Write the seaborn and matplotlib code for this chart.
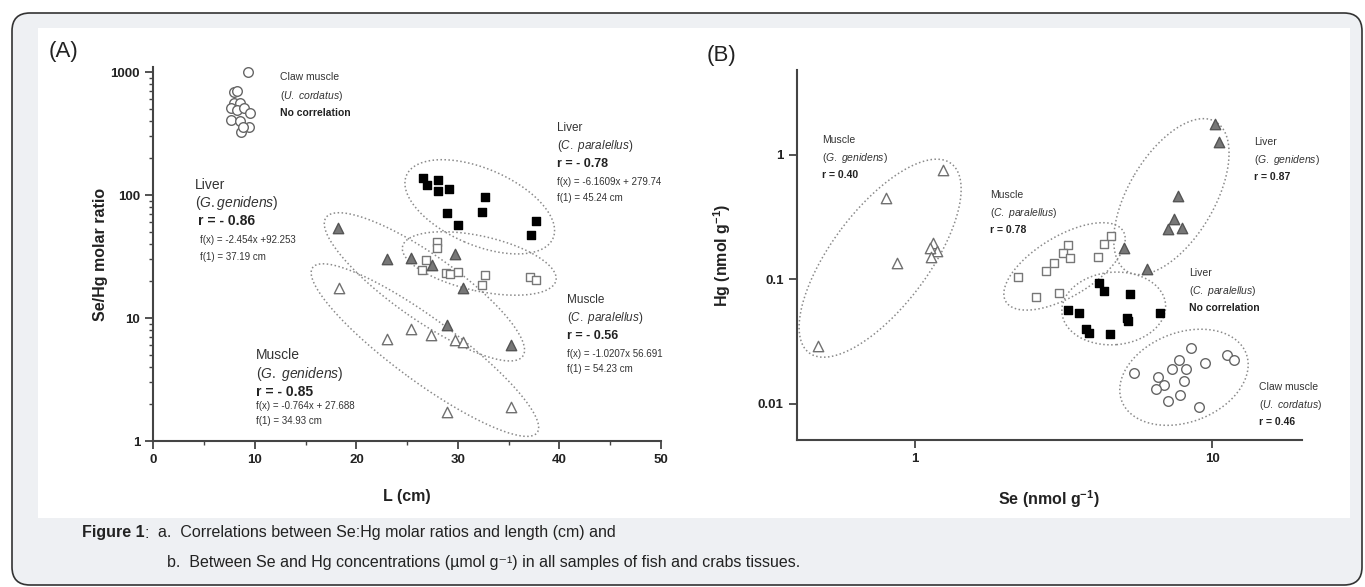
import numpy as np
import pandas as pd
import matplotlib
matplotlib.use("Agg")
import matplotlib.pyplot as plt
import seaborn as sns
from matplotlib.patches import FancyBboxPatch, Rectangle
from matplotlib.transforms import IdentityTransform
from matplotlib.ticker import FixedLocator, NullLocator, LogLocator, NullFormatter, MultipleLocator

# ---- panel A : Se/Hg molar ratio vs length ----
claw_A_L = [9.3, 7.9, 8.2, 7.9, 8.5, 7.7, 8.2, 8.9, 9.5, 7.7, 8.5, 9.4, 8.6, 8.8]
claw_A_ratio = [1000, 690, 700, 560, 560, 510, 490, 510, 465, 410, 400, 360, 325, 355]
liverC_A_L = [26.6, 27.0, 28.0, 28.0, 29.1, 32.7, 32.4, 28.9, 30.0, 37.7, 37.2]
liverC_A_ratio = [137, 121, 132, 108, 113, 97, 73, 71, 57, 61, 47]
liverG_A_L = [18.2, 23.0, 25.4, 27.4, 29.7, 30.5, 28.9, 35.2]
liverG_A_ratio = [53.6, 30.2, 30.6, 27.0, 33.1, 17.4, 8.8, 6.0]
muscC_A_L = [27.9, 27.9, 26.9, 26.5, 28.8, 29.2, 30.0, 32.7, 32.4, 37.1, 37.7]
muscC_A_ratio = [41.7, 36.9, 29.6, 24.6, 23.4, 22.8, 23.8, 22.4, 18.5, 21.4, 20.4]
muscG_A_L = [18.3, 23.0, 25.4, 27.3, 29.7, 30.5, 28.9, 35.2]
muscG_A_ratio = [17.4, 6.8, 8.1, 7.3, 6.6, 6.4, 1.73, 1.9]

# ---- panel B : Hg vs Se ----
muscG_B_Se = [1.24, 0.80, 0.87, 1.15, 1.19, 1.12, 1.13, 0.47]
muscG_B_Hg = [0.75, 0.45, 0.134, 0.195, 0.168, 0.178, 0.150, 0.029]
muscC_B_Se = [4.57, 4.33, 3.26, 3.14, 3.32, 2.94, 2.76, 4.14, 2.22, 2.56, 3.04]
muscC_B_Hg = [0.223, 0.192, 0.189, 0.162, 0.148, 0.134, 0.117, 0.152, 0.105, 0.072, 0.078]
liverC_B_Se = [4.17, 4.33, 5.29, 3.26, 3.55, 3.76, 3.86, 4.53, 5.15, 5.19, 6.67]
liverC_B_Hg = [0.094, 0.080, 0.076, 0.057, 0.053, 0.040, 0.037, 0.036, 0.049, 0.046, 0.053]
liverG_B_Se = [10.2, 10.5, 7.7, 7.45, 7.11, 7.94, 5.06, 6.04]
liverG_B_Hg = [1.77, 1.27, 0.468, 0.304, 0.252, 0.257, 0.178, 0.120]
claw_B_Se = [8.46, 7.72, 7.35, 8.19, 6.56, 6.88, 8.06, 6.47, 7.80, 7.09, 9.04, 9.49, 5.47, 11.2, 11.8]
claw_B_Hg = [0.0282, 0.0224, 0.0189, 0.0189, 0.0165, 0.0141, 0.0153, 0.0130, 0.0117, 0.0105,
             0.0094, 0.0211, 0.0175, 0.0246, 0.0224]

W, H = 1365, 587
sns.set_style("ticks")
plt.rcParams["font.family"] = ["Liberation Sans", "DejaVu Sans"]
plt.rcParams["mathtext.fontset"] = "custom"
plt.rcParams["mathtext.rm"] = "Liberation Sans"
plt.rcParams["mathtext.it"] = "Liberation Sans:italic"
plt.rcParams["mathtext.bf"] = "Liberation Sans:bold"

fig = plt.figure(figsize=(W / 100, H / 100), dpi=100)
fig.patch.set_facecolor("white")
fig.add_artist(FancyBboxPatch((12, H - 585), 1350, 572, boxstyle="round,pad=0,rounding_size=18",
                              transform=IdentityTransform(), fc="#eef0f3", ec="#333333", lw=1.2, zorder=-3))
fig.add_artist(Rectangle((38, H - 518), 1312, 490, transform=IdentityTransform(),
                         fc="white", ec="none", zorder=-2))


def px_ax(l, r, t, b):
    return [l / W, 1 - b / H, (r - l) / W, (b - t) / H]


axA = fig.add_axes(px_ax(153.3, 661, 67, 441))
axB = fig.add_axes(px_ax(796.7, 1301.7, 70, 440))

# scales and limits first: the ellipses are built in screen space
axA.set_yscale("log")
axA.set_xlim(0, 50)
axA.set_ylim(1, 1100)
axB.set_xscale("log")
axB.set_yscale("log")
axB.set_xlim(0.4, 20)
axB.set_ylim(0.0051, 4.8)

ELL = dict(color="#8a8a8a", lw=1.1, ls=(0, (1, 1.6)), zorder=1)


def ellipse(ax, xs, ys, n_major, n_minor, pad=14):
    # principal-axes ellipse around a group, computed on screen so log axes stay round
    d = ax.transData.transform(np.column_stack([xs, ys]))
    ctr = (d.min(axis=0) + d.max(axis=0)) / 2
    vals, vecs = np.linalg.eigh(np.cov(d.T))
    sd = np.sqrt(vals)
    semi = np.array([n_minor * sd[0] + pad, n_major * sd[1] + pad])
    t = np.linspace(0, 2 * np.pi, 260)
    e = vecs @ (semi[:, None] * np.vstack([np.cos(t), np.sin(t)]))
    back = ax.transData.inverted().transform(e.T + ctr)
    ax.plot(back[:, 0], back[:, 1], **ELL)


def pts(ax, x, y, kind):
    st = {
        "open_sq": dict(marker="s", s=40, facecolor="white", edgecolor="#777777", linewidth=1.0),
        "black_sq": dict(marker="s", s=40, facecolor="black", edgecolor="black", linewidth=1.0),
        "open_tri": dict(marker="^", s=56, facecolor="white", edgecolor="#707070", linewidth=1.0),
        "gray_tri": dict(marker="^", s=56, facecolor="#777777", edgecolor="#555555", linewidth=1.0),
        "open_circ": dict(marker="o", s=48, facecolor="white", edgecolor="#666666", linewidth=1.0),
    }[kind]
    sns.scatterplot(x=x, y=y, ax=ax, zorder=3, legend=False, **st)


# panel A
ellipse(axA, liverC_A_L, liverC_A_ratio, 1.55, 2.1)
ellipse(axA, liverG_A_L, liverG_A_ratio, 1.7, 0.95)
ellipse(axA, muscC_A_L, muscC_A_ratio, 1.6, 1.3)
ellipse(axA, muscG_A_L, muscG_A_ratio, 2.0, 0.8)
pts(axA, claw_A_L, claw_A_ratio, "open_circ")
pts(axA, muscC_A_L, muscC_A_ratio, "open_sq")
pts(axA, muscG_A_L, muscG_A_ratio, "open_tri")
pts(axA, liverG_A_L, liverG_A_ratio, "gray_tri")
pts(axA, liverC_A_L, liverC_A_ratio, "black_sq")

# panel B
ellipse(axB, muscG_B_Se, muscG_B_Hg, 1.7, 1.35)
ellipse(axB, muscC_B_Se, muscC_B_Hg, 1.65, 1.4)
ellipse(axB, liverC_B_Se, liverC_B_Hg, 1.4, 1.3)
ellipse(axB, liverG_B_Se, liverG_B_Hg, 1.25, 2.4)
ellipse(axB, claw_B_Se, claw_B_Hg, 1.9, 2.0)
pts(axB, muscG_B_Se, muscG_B_Hg, "open_tri")
pts(axB, muscC_B_Se, muscC_B_Hg, "open_sq")
pts(axB, liverC_B_Se, liverC_B_Hg, "black_sq")
pts(axB, liverG_B_Se, liverG_B_Hg, "gray_tri")
pts(axB, claw_B_Se, claw_B_Hg, "open_circ")

for ax in (axA, axB):
    ax.set_facecolor("none")
    sns.despine(ax=ax)
    for sp in ("left", "bottom"):
        ax.spines[sp].set_linewidth(1.5)
        ax.spines[sp].set_color("#444444")
    ax.tick_params(which="major", direction="out", length=6, width=1.3, color="#444444",
                   labelsize=9.5, labelcolor="#222222")
    ax.tick_params(which="minor", direction="out", length=3, width=1.0, color="#444444")

axA.set_xlim(0, 50)
axA.set_ylim(1, 1100)
axA.xaxis.set_major_locator(MultipleLocator(10))
axA.xaxis.set_minor_locator(MultipleLocator(5))
axA.yaxis.set_major_locator(FixedLocator([1, 10, 100, 1000]))
axA.yaxis.set_minor_locator(LogLocator(subs=np.arange(2, 10)))
axA.yaxis.set_minor_formatter(NullFormatter())
axA.set_yticklabels(["1", "10", "100", "1000"], fontweight="bold")
axA.set_xticklabels([f"{v:g}" for v in axA.get_xticks()], fontweight="bold")
axA.set_xlabel("L (cm)", fontsize=11.5, fontweight="bold", color="#222222")
axA.set_ylabel("Se/Hg molar ratio", fontsize=11.5, fontweight="bold", color="#222222")
axA.yaxis.set_label_coords(-0.089, 0.5)
axA.xaxis.set_label_coords(0.5, -0.128)

axB.set_xlim(0.4, 20)
axB.set_ylim(0.0051, 4.8)
axB.xaxis.set_major_locator(FixedLocator([1, 10]))
axB.yaxis.set_major_locator(FixedLocator([0.01, 0.1, 1]))
axB.xaxis.set_minor_locator(NullLocator())
axB.yaxis.set_minor_locator(NullLocator())
axB.set_xticklabels(["1", "10"], fontweight="bold")
axB.set_yticklabels(["0.01", "0.1", "1"], fontweight="bold")
axB.set_xlabel("Se (nmol g$^{\\mathbf{-1}}$)", fontsize=11.5, fontweight="bold", color="#222222")
axB.set_ylabel("Hg (nmol g$^{\\mathbf{-1}}$)", fontsize=11.5, fontweight="bold", color="#222222")
axB.yaxis.set_label_coords(-0.126, 0.5)
axB.xaxis.set_label_coords(0.5, -0.13)


def t(x, y, s, size=8, weight="normal", color="#333333"):
    fig.text(x / W, 1 - y / H, s, fontsize=size, fontweight=weight, color=color, ha="left", va="center")


fig.text(64 / W, 1 - 52 / H, "(A)", fontsize=16, ha="center", va="center", color="#222222")
fig.text(722 / W, 1 - 56 / H, "(B)", fontsize=16, ha="center", va="center", color="#222222")

# panel A annotations
t(280, 77, "Claw muscle", 7.5)
t(280, 96, r"($\it{U.\ cordatus}$)", 7.5)
t(280, 113, "No correlation", 7.5, "bold", "#222222")

t(195, 185, "Liver", 10)
t(195, 203, r"($\it{G.genidens}$)", 10)
t(198, 221, "r = - 0.86", 10, "bold", "#222222")
t(200, 240, "f(x) = -2.454x +92.253", 7)
t(200, 257, "f(1) = 37.19 cm", 7)

t(557, 128, "Liver", 8.5)
t(557, 146, r"($\it{C.\ paralellus}$)", 8.5)
t(557, 164, "r = - 0.78", 9, "bold", "#222222")
t(557, 182, "f(x) = -6.1609x + 279.74", 7)
t(557, 198, "f(1) = 45.24 cm", 7)

t(567, 300, "Muscle", 8.5)
t(567, 318, r"($\it{C.\ paralellus}$)", 8.5)
t(567, 336, "r = - 0.56", 9, "bold", "#222222")
t(567, 354, "f(x) = -1.0207x 56.691", 7)
t(567, 369, "f(1) = 54.23 cm", 7)

t(256, 355, "Muscle", 10)
t(256, 374, r"($\it{G.\ genidens}$)", 10)
t(256, 392, "r = - 0.85", 10, "bold", "#222222")
t(256, 406, "f(x) = -0.764x + 27.688", 7)
t(256, 421, "f(1) = 34.93 cm", 7)

# panel B annotations
for x0, y0, a, b, c in [
    (822, 140, "Muscle", r"($\it{G.\ genidens}$)", "r = 0.40"),
    (990, 195, "Muscle", r"($\it{C.\ paralellus}$)", "r = 0.78"),
    (1254, 142, "Liver", r"($\it{G.\ genidens}$)", "r = 0.87"),
    (1189, 273, "Liver", r"($\it{C.\ paralellus}$)", "No correlation"),
    (1259, 387, "Claw muscle", r"($\it{U.\ cordatus}$)", "r = 0.46"),
]:
    t(x0, y0, a, 7.5)
    t(x0, y0 + 18, b, 7.5)
    t(x0, y0 + 35, c, 7.5, "bold", "#222222")

# caption
fig.canvas.draw()
cap = fig.text(82 / W, 1 - 533 / H, "Figure 1", fontsize=11.5, fontweight="bold", color="#222222",
               ha="left", va="center")
bb = cap.get_window_extent(fig.canvas.get_renderer())
rest = fig.text(bb.x1 / W, 1 - 533 / H, ":  ", fontsize=11.5, color="#222222", ha="left", va="center")
bb2 = rest.get_window_extent(fig.canvas.get_renderer())
fig.text(bb2.x1 / W, 1 - 533 / H, "a.  Correlations between Se:Hg molar ratios and length (cm) and",
         fontsize=11.5, color="#222222", ha="left", va="center")
fig.text((bb2.x1 + 9) / W, 1 - 563 / H,
         "b.  Between Se and Hg concentrations (µmol g⁻¹) in all samples of fish and crabs tissues.",
         fontsize=11.5, color="#222222", ha="left", va="center")

fig.savefig("out.png", dpi=100)
